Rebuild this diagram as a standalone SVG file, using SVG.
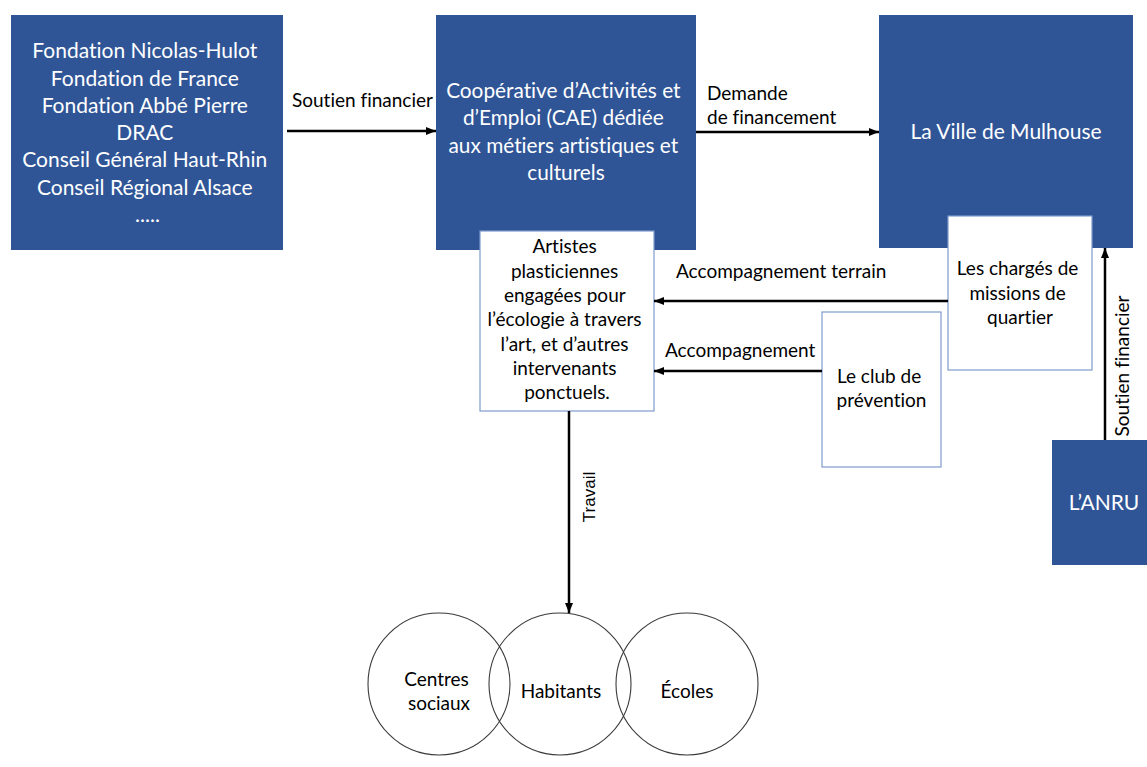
<svg xmlns="http://www.w3.org/2000/svg" width="1147" height="767" viewBox="0 0 1147 767">
<style>
.blue{fill:#2F5597;}
.wbox{fill:#FFFFFF;stroke:#7D9CCB;stroke-width:1.2;}
.wt{font-family:Lato,"Noto Sans",sans-serif;fill:#FFFFFF;text-anchor:middle;font-variant-ligatures:none;}
.bt{font-family:Lato,"Noto Sans",sans-serif;fill:#000000;font-variant-ligatures:none;}
.ar{font-family:"Liberation Sans",Arial,sans-serif;fill:#000000;font-size:17px;text-anchor:middle;}
.conn{stroke:#000000;stroke-width:2.5;fill:none;marker-end:url(#ah);}
.circ{fill:none;stroke:#3A3A3A;stroke-width:1.1;}
</style>
<defs>
<marker id="ah" markerUnits="userSpaceOnUse" markerWidth="10" markerHeight="10" viewBox="0 0 10 10" refX="10" refY="5" orient="auto">
<path d="M0,1 L10,5 L0,9 Z" fill="#000000"/>
</marker>
</defs>
<rect width="1147" height="767" fill="#FFFFFF"/>
<g id="financeurs">
<rect class="blue" x="11" y="15" width="272" height="235"/>
<text class="wt" font-size="21">
<tspan x="147.5" y="58">Fondation Nicolas-Hulot</tspan>
<tspan x="147.5" y="85.5">Fondation de France</tspan>
<tspan x="147.5" y="112.8">Fondation Abbé Pierre</tspan>
<tspan x="147.5" y="140">DRAC</tspan>
<tspan x="147.5" y="167.3">Conseil Général Haut-Rhin</tspan>
<tspan x="147.5" y="194.6">Conseil Régional Alsace</tspan>
<tspan x="147.5" y="222">.....</tspan>
</text>
</g>
<g id="cae">
<rect class="blue" x="436" y="15" width="260" height="235"/>
<text class="wt" font-size="20.8">
<tspan x="566" y="98">Coopérative d’Activités et</tspan>
<tspan x="566" y="125">d’Emploi (CAE) dédiée</tspan>
<tspan x="566" y="152.5">aux métiers artistiques et</tspan>
<tspan x="566" y="179.5">culturels</tspan>
</text>
</g>
<g id="ville">
<rect class="blue" x="879" y="15" width="254" height="233"/>
<text class="wt" font-size="21" x="1006" y="139">La Ville de Mulhouse</text>
</g>
<g id="anru">
<rect class="blue" x="1052" y="440" width="100" height="125"/>
<text class="wt" font-size="21" x="1104" y="510">L’ANRU</text>
</g>
<g id="artistes">
<rect class="wbox" x="480" y="231" width="174" height="180"/>
<text class="bt" font-size="19" text-anchor="middle">
<tspan x="567" y="253">Artistes</tspan>
<tspan x="567" y="277.5">plasticiennes</tspan>
<tspan x="567" y="302">engagées pour</tspan>
<tspan x="567" y="326.3">l’écologie à travers</tspan>
<tspan x="567" y="350.6">l’art, et d’autres</tspan>
<tspan x="567" y="375">intervenants</tspan>
<tspan x="567" y="399.4">ponctuels.</tspan>
</text>
</g>
<g id="charges">
<rect class="wbox" x="948" y="216" width="144" height="154"/>
<text class="bt" font-size="19" text-anchor="middle">
<tspan x="1020" y="275">Les chargés de</tspan>
<tspan x="1020" y="299.5">missions de</tspan>
<tspan x="1020" y="323.5">quartier</tspan>
</text>
</g>
<g id="club">
<rect class="wbox" x="822" y="312" width="119" height="155"/>
<text class="bt" font-size="19" text-anchor="middle">
<tspan x="881.5" y="383">Le club de</tspan>
<tspan x="881.5" y="407">prévention</tspan>
</text>
</g>
<g id="publics">
<circle class="circ" cx="439" cy="684" r="71"/>
<circle class="circ" cx="560" cy="684" r="71"/>
<circle class="circ" cx="687" cy="684" r="71"/>
<text class="bt" font-size="19" text-anchor="middle">
<tspan x="439" y="686">Centres</tspan>
<tspan x="439" y="710">sociaux</tspan>
</text>
<text class="bt" font-size="19" text-anchor="middle" x="561" y="698">Habitants</text>
<text class="bt" font-size="19" text-anchor="middle" x="687" y="698">Écoles</text>
</g>
<g id="connectors">
<line class="conn" x1="287" y1="131" x2="436" y2="131"/>
<text class="bt" font-size="19" x="292" y="107">Soutien financier</text>
<line class="conn" x1="696" y1="132" x2="879" y2="132"/>
<text class="bt" font-size="19"><tspan x="707" y="100">Demande</tspan><tspan x="707" y="124">de financement</tspan></text>
<line class="conn" x1="948" y1="301" x2="654" y2="301"/>
<text class="bt" font-size="19" x="676" y="278">Accompagnement terrain</text>
<line class="conn" x1="822" y1="371" x2="654" y2="371"/>
<text class="bt" font-size="19" x="665" y="357">Accompagnement</text>
<line class="conn" x1="569" y1="411" x2="569" y2="613"/>
<text class="ar" transform="translate(595,497) rotate(-90)" x="0" y="0">Travail</text>
<line class="conn" x1="1105" y1="440" x2="1105" y2="248"/>
<text class="bt" font-size="19" text-anchor="middle" transform="translate(1129,366) rotate(-90)" x="0" y="0">Soutien financier</text>
</g>
</svg>
